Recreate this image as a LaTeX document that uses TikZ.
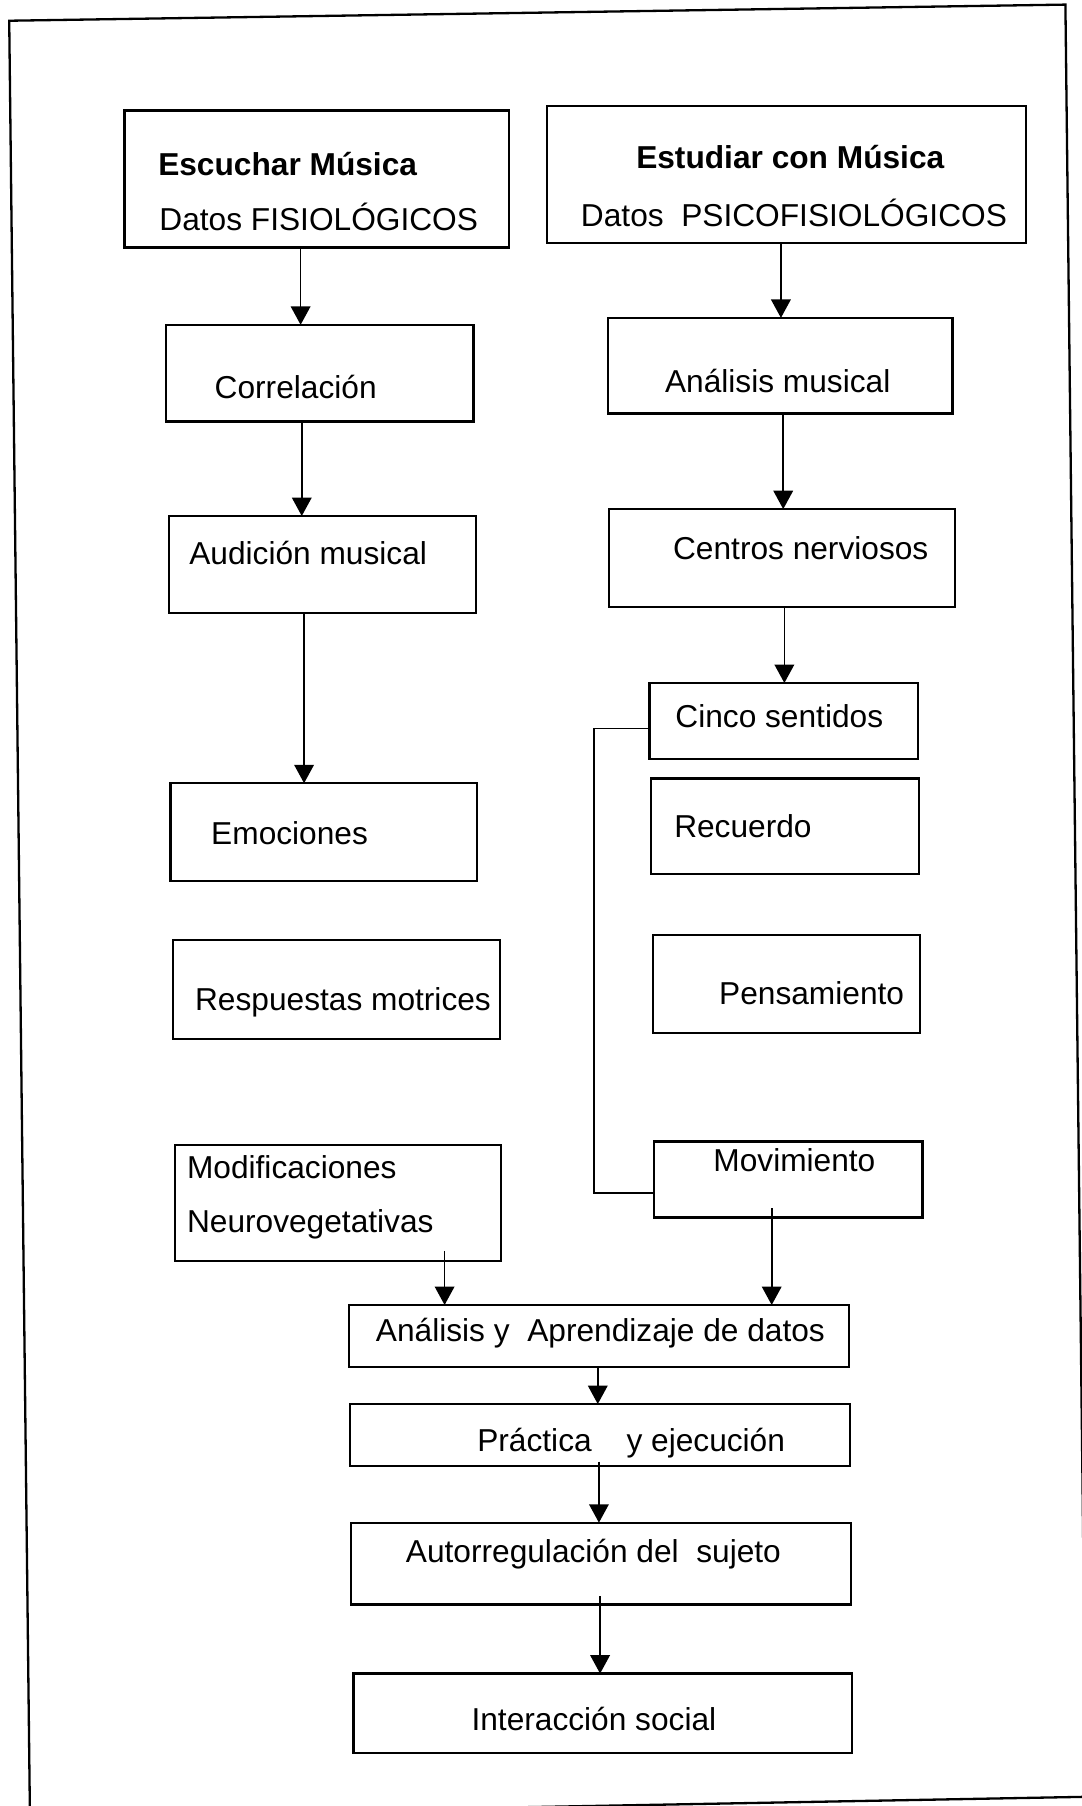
\documentclass[tikz,border=0pt]{standalone}
\usepackage{fontspec}
\setmainfont{Liberation Sans}
\usetikzlibrary{arrows.meta}

% A box given by its left, top, right and bottom edges (y grows downwards)
\newcommand\flowbox[5]{%
  \node[box, minimum width={(#4-#2)*0.5pt}, minimum height={(#5-#3)*0.5pt}]
    (#1) at ({(#2+#4)/2},{(#3+#5)/2}) {};}

\begin{document}
\begin{tikzpicture}[x=0.5pt, y=-0.5pt,
  box/.style={draw, line width=1pt, inner sep=0pt, outer sep=0pt},
  txt/.style={anchor=base west, inner sep=0pt, font=\fontsize{13.75}{16.5}\selectfont},
  ttl/.style={txt, font=\fontsize{13.75}{16.5}\selectfont\bfseries},
  arr/.style={line width=0.75pt, -{Triangle[length=8pt, width=8.5pt]}},
  link/.style={line width=0.75pt},
  frame/.style={line width=1pt}]

\useasboundingbox (0,0) rectangle (939,1568);

% outer frame
\draw[frame] (8,18) -- (925,4) -- (943,1560) -- (26,1577) -- cycle;

% left column
\flowbox{esc}{108}{96}{442}{215}
\node[ttl] (escA) at (137,152) {Escuchar Música};
\node[txt] (escB) at (138,200) {Datos FISIOLÓGICOS};

\flowbox{corr}{144}{282}{411}{366}
\node[txt] (corrT) at (186,346) {Correlación};

\flowbox{aud}{147}{448}{413}{532}
\node[txt] (audT) at (164,490) {Audición musical};

\flowbox{emo}{148}{680}{414}{765}
\node[txt] (emoT) at (183,733) {Emociones};

\flowbox{resp}{150}{816}{434}{902}
\node[txt] (respT) at (169,877) {Respuestas motrices};

\flowbox{modif}{152}{994}{435}{1095}
\node[txt] (modifA) at (162,1023) {Modificaciones};
\node[txt] (modifB) at (162,1070) {Neurovegetativas};

% right column
\flowbox{est}{475}{92}{891}{211}
\node[ttl] (estA) at (552,146) {Estudiar con Música};
\node[txt] (estB) at (504,197) {Datos~~PSICOFISIOLÓGICOS};

\flowbox{am}{528}{276}{827}{359}
\node[txt] (amT) at (577,341) {Análisis musical};

\flowbox{cen}{529}{442}{829}{527}
\node[txt] (cenT) at (584,486) {Centros nerviosos};

\flowbox{cinco}{564}{593}{797}{659}
\node[txt] (cincoT) at (586,632) {Cinco sentidos};

\flowbox{rec}{565}{676}{798}{759}
\node[txt] (recT) at (585,727) {Recuerdo};

\flowbox{pens}{567}{812}{799}{897}
\node[txt] (pensT) at (624,872) {Pensamiento};

\flowbox{mov}{568}{991}{801}{1057}
\node[txt] (movT) at (619,1017) {Movimiento};

% common trunk
\flowbox{aad}{303}{1133}{737}{1187}
\node[txt] (aadT) at (326,1165) {Análisis y~~Aprendizaje de datos};

\flowbox{prac}{304}{1219}{738}{1273}
\node[txt] (pracT) at (414,1260) {Práctica\hspace{1.1em}y ejecución};

\flowbox{auto}{305}{1322}{739}{1393}
\node[txt] (autoT) at (352,1357) {Autorregulación del~~sujeto};

\flowbox{inter}{307}{1453}{740}{1522}
\node[txt] (interT) at (409,1502) {Interacción social};

% vertical positions of the connectors
\coordinate (xa) at (261,0);
\coordinate (xb) at (262,0);
\coordinate (xc) at (264,0);
\coordinate (xd) at (678,0);
\coordinate (xe) at (680,0);
\coordinate (xf) at (681,0);
\coordinate (xg) at (519,0);
\coordinate (xh) at (520,0);
\coordinate (xi) at (521,0);
\coordinate (modS) at (386,1086);
\coordinate (movS) at (670,1049);
\coordinate (pracS) at (520,1269);
\coordinate (autoS) at (521,1386);

\draw[arr] (esc.south -| xa) -- (corr.north -| xa);
\draw[arr] (corr.south -| xb) -- (aud.north -| xb);
\draw[arr] (aud.south -| xc) -- (emo.north -| xc);

\draw[arr] (est.south -| xd) -- (am.north -| xd);
\draw[arr] (am.south -| xe) -- (cen.north -| xe);
\draw[arr] (cen.south -| xf) -- (cinco.north -| xf);

% bracket joining Cinco sentidos and Movimiento
\draw[link] ([yshift=-3.25pt]cinco.west) -- ++(-48,0) |- ([yshift=-5.75pt]mov.west);

\draw[arr] (modS) -- (aad.north -| modS);
\draw[arr] (movS) -- (aad.north -| movS);
\draw[arr] (aad.south -| xg) -- (prac.north -| xg);
\draw[arr] (pracS) -- (auto.north -| pracS);
\draw[arr] (autoS) -- (inter.north -| autoS);

\end{tikzpicture}
\end{document}
